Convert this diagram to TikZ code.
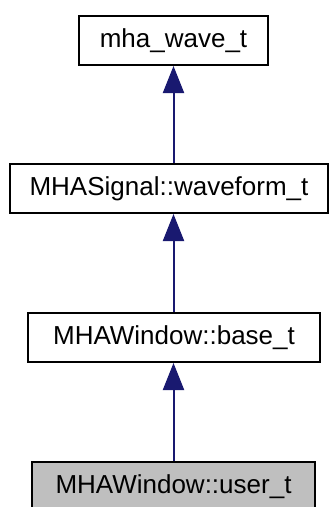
\documentclass[tikz,border=0pt]{standalone}
\usepackage{fontspec}
\setmainfont{Liberation Sans}
\usetikzlibrary{arrows.meta}
\definecolor{edgeblue}{HTML}{191970}
\definecolor{boxgrey}{HTML}{BFBFBF}
\tikzset{
  classbox/.style={draw=black, line width=2pt, fill=white, inner sep=0pt,
    minimum height=49pt, text height=19pt, text depth=5pt,
    font=\fontsize{26}{30}\selectfont},
  inherit/.style={draw=edgeblue, line width=2pt,
    -{Triangle[width=21pt,length=27pt,fill=edgeblue]}},
}
\begin{document}
\begin{tikzpicture}[x=1pt,y=1pt]
\useasboundingbox (0,0) rectangle (330,-507);
\node[classbox, minimum width=189pt] (b1) at (173.5,-40.5) {mha\_wave\_t};
\node[classbox, minimum width=318pt] (b2) at (169,-188.5) {MHASignal::waveform\_t};
\node[classbox, minimum width=292pt] (b3) at (174,-337.5) {MHAWindow::base\_t};
\node[classbox, fill=boxgrey, minimum width=283pt] (b4) at (173.5,-486.5) {MHAWindow::user\_t};
\draw[inherit] (b1.south |- b2.north) -- (b1.south);
\draw[inherit] (b1.south |- b3.north) -- (b1.south |- b2.south);
\draw[inherit] (b1.south |- b4.north) -- (b1.south |- b3.south);
\end{tikzpicture}
\end{document}
